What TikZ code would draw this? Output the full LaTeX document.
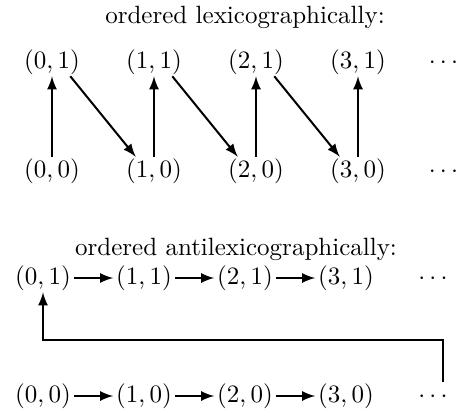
\documentclass[tikz,border=0pt]{standalone}
\usepackage{amsmath}
\usetikzlibrary{arrows,positioning}

\begin{document}
\begin{tikzpicture}[
    x=0.4pt, y=-0.4pt,
    on grid,
    tuple/.style={inner xsep=1pt, inner ysep=0.5pt, text height=7.5pt, text depth=2.5pt},
    arr/.style={-latex, thick}
]
\useasboundingbox (0,0) rectangle (457,414);
% lexicographic order
\node (lextitle) at (245,17) {ordered lexicographically:};
\node[tuple] (a01) at (52,62) {$(0,1)$};
\node[tuple, right=40.8pt of a01] (a11) {$(1,1)$};
\node[tuple, right=40.8pt of a11] (a21) {$(2,1)$};
\node[tuple, right=40.8pt of a21] (a31) {$(3,1)$};
\node[tuple, right=35pt of a31] (adots1) {$\cdots$};
\node[tuple, below=43.6pt of a01] (a00) {$(0,0)$};
\node[tuple, right=40.8pt of a00] (a10) {$(1,0)$};
\node[tuple, right=40.8pt of a10] (a20) {$(2,0)$};
\node[tuple, right=40.8pt of a20] (a30) {$(3,0)$};
\node[tuple, right=35pt of a30] (adots0) {$\cdots$};
\draw[arr] (a00.north) -- (a01.south);
\draw[arr] ([xshift=-5pt]a01.south east) -- ([xshift=5pt]a10.north west);
\draw[arr] (a10.north) -- (a11.south);
\draw[arr] ([xshift=-5pt]a11.south east) -- ([xshift=5pt]a20.north west);
\draw[arr] (a20.north) -- (a21.south);
\draw[arr] ([xshift=-5pt]a21.south east) -- ([xshift=5pt]a30.north west);
\draw[arr] (a30.north) -- (a31.south);
% antilexicographic order
\node (antititle) at (236,249) {ordered antilexicographically:};
\node[tuple] (b01) at (43,278) {$(0,1)$};
\node[tuple, right=40.4pt of b01] (b11) {$(1,1)$};
\node[tuple, right=40.4pt of b11] (b21) {$(2,1)$};
\node[tuple, right=40.4pt of b21] (b31) {$(3,1)$};
\node[tuple, right=35.6pt of b31] (bdots1) {$\cdots$};
\node[tuple, below=47.2pt of b01] (b00) {$(0,0)$};
\node[tuple, right=40.4pt of b00] (b10) {$(1,0)$};
\node[tuple, right=40.4pt of b10] (b20) {$(2,0)$};
\node[tuple, right=40.4pt of b20] (b30) {$(3,0)$};
\node[tuple, right=35.6pt of b30] (bdots0) {$\cdots$};
\draw[arr] (b01) -- (b11);
\draw[arr] (b11) -- (b21);
\draw[arr] (b21) -- (b31);
\draw[arr] (b00) -- (b10);
\draw[arr] (b10) -- (b20);
\draw[arr] (b20) -- (b30);
\coordinate (turn) at (0,340);
\coordinate (loopstart) at ([xshift=3pt]bdots0.north);
\draw[arr] (loopstart) -- (loopstart |- turn) -| (b01.south);
\end{tikzpicture}
\end{document}
